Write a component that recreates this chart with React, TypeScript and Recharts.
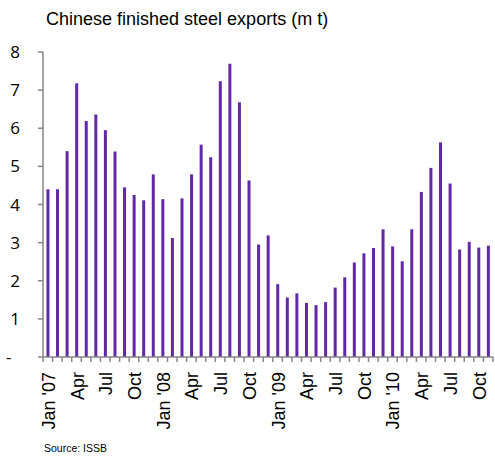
import { Bar, BarChart, XAxis, YAxis } from 'recharts';

// Monthly series, Jan 2007 - Nov 2010
const monthNames = ['Jan', 'Feb', 'Mar', 'Apr', 'May', 'Jun', 'Jul', 'Aug', 'Sep', 'Oct', 'Nov', 'Dec'];
const years = ['07', '08', '09', '10'];
const months: string[] = years
    .flatMap(yr => monthNames.map(m => (m === 'Jan' ? `Jan '${yr}` : m)))
    .slice(0, 47);

// million tonnes
const steelExports = [
    4.4, 4.4, 5.4, 7.18, 6.19, 6.36, 5.95, 5.39, 4.45, 4.25, 4.11, 4.79,
    4.14, 3.12, 4.16, 4.79, 5.57, 5.24, 7.23, 7.69, 6.68, 4.63, 2.95, 3.19,
    1.91, 1.56, 1.67, 1.42, 1.36, 1.44, 1.82, 2.09, 2.48, 2.72, 2.86, 3.35,
    2.9, 2.51, 3.35, 4.33, 4.96, 5.63, 4.55, 2.82, 3.02, 2.87, 2.92,
];

const yTicks = [0, 1, 2, 3, 4, 5, 6, 7, 8];

const data = months.map((month, i) => ({ month, value: steelExports[i] }));

const AXIS = '#868686';
const PLOT_LEFT = 43;
const PLOT_RIGHT = 493;
const step = (PLOT_RIGHT - PLOT_LEFT) / months.length;

const MonthTick = (props: any) => {
    const { x, y, payload, index } = props;
    const edge = x - step / 2;
    return (
        <g>
            <line x1={edge} x2={edge} y1={y} y2={y + 5} stroke={AXIS} strokeWidth={1.5} />
            {index === months.length - 1 && (
                <line x1={x + step / 2} x2={x + step / 2} y1={y} y2={y + 5} stroke={AXIS} strokeWidth={1.5} />
            )}
            {index % 3 === 0 && (
                <text
                    transform={`translate(${x + 7},${y + 15}) rotate(-90)`}
                    textAnchor="end"
                    fontSize={18}
                    fontFamily="Liberation Sans, Arial, sans-serif"
                    fill="#000"
                >
                    {payload.value}
                </text>
            )}
        </g>
    );
};

const ValueTick = (props: any) => {
    const { y, payload } = props;
    if (payload.value === 0) {
        return (
            <text x={6} y={y + 6} fontSize={17} fontFamily="Open Sans, sans-serif" fill="#000">-</text>
        );
    }
    return (
        <text x={20} y={y + 6} textAnchor="end" fontSize={17} fontFamily="Open Sans, sans-serif" fill="#000">
            {payload.value}
        </text>
    );
};

const App = () => {
    return (
        <div style={{ position: 'absolute', left: 0, top: 0, width: 495, height: 456, background: '#fff' }}>
            <div
                style={{
                    position: 'absolute',
                    left: 46,
                    top: 9,
                    fontSize: 18,
                    fontFamily: 'Liberation Sans, Arial, sans-serif',
                    color: '#000',
                    whiteSpace: 'nowrap',
                }}
            >
                Chinese finished steel exports (m t)
            </div>
            <BarChart
                width={495}
                height={456}
                data={data}
                barCategoryGap="36%"
                margin={{ top: 52, right: 495 - PLOT_RIGHT, bottom: 19, left: PLOT_LEFT - 35 }}
            >
                <XAxis
                    dataKey="month"
                    interval={0}
                    height={80}
                    tickLine={false}
                    tickSize={0}
                    tickMargin={0}
                    axisLine={{ stroke: AXIS, strokeWidth: 1.5 }}
                    tick={<MonthTick />}
                />
                <YAxis
                    width={35}
                    domain={[0, 8]}
                    ticks={yTicks}
                    interval={0}
                    tickSize={5}
                    axisLine={{ stroke: AXIS, strokeWidth: 1.5 }}
                    tickLine={{ stroke: AXIS, strokeWidth: 1.5 }}
                    tick={<ValueTick />}
                />
                <Bar dataKey="value" fill="#6228a8" isAnimationActive={false} />
            </BarChart>
            <div
                style={{
                    position: 'absolute',
                    left: 44,
                    top: 442,
                    fontSize: 10.5,
                    fontFamily: 'Liberation Sans, Arial, sans-serif',
                    color: '#000',
                }}
            >
                Source: ISSB
            </div>
        </div>
    );
};

export default App;
